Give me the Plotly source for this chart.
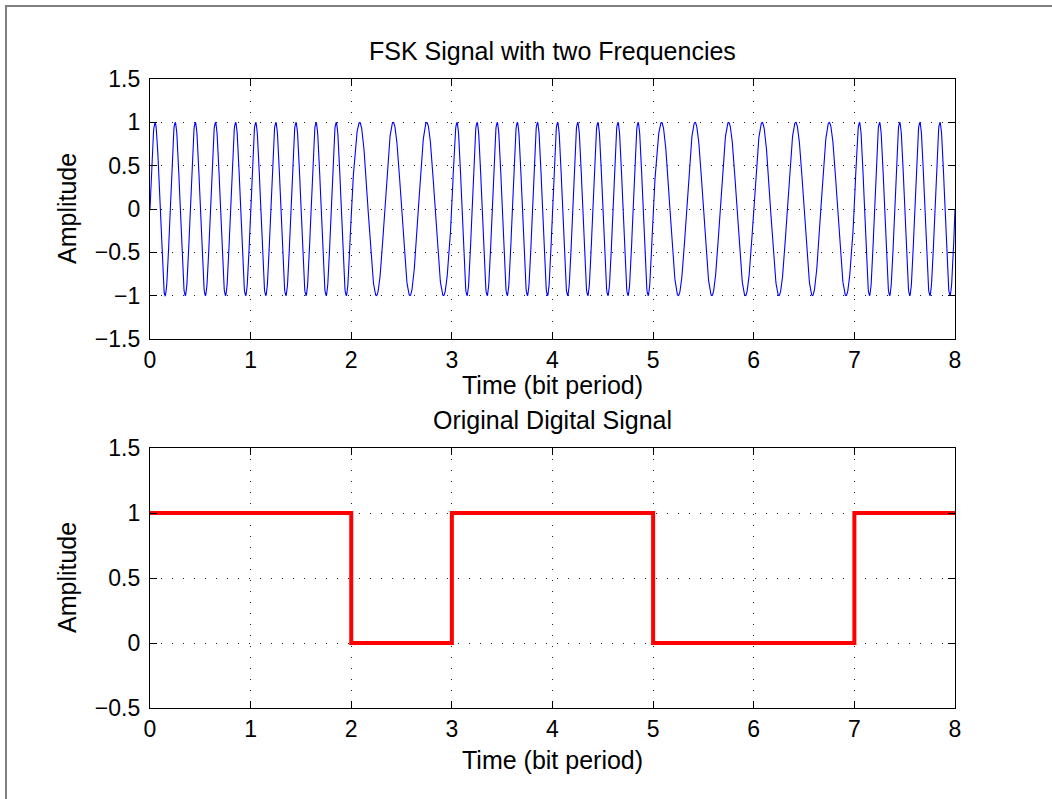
import numpy as np
import plotly.graph_objects as go

# ---- data ----
bits = [1, 1, 0, 1, 1, 0, 0, 1]          # original digital signal
freq_one = 5                              # cycles per bit period for bit 1
freq_zero = 3                             # cycles per bit period for bit 0
samples_per_bit = 400
x_ticks = [0, 1, 2, 3, 4, 5, 6, 7, 8]
y_ticks_top = [-1.5, -1, -0.5, 0, 0.5, 1, 1.5]
y_ticks_bot = [-0.5, 0, 0.5, 1, 1.5]

# FSK waveform built from the bits
t_all, s_all = [], []
for i, b in enumerate(bits):
    f = freq_one if b == 1 else freq_zero
    t = np.linspace(i, i + 1, samples_per_bit + 1)
    t_all.append(t)
    s_all.append(np.sin(2 * np.pi * f * t))
t_fsk = np.concatenate(t_all)
s_fsk = np.concatenate(s_all)

step_x = list(range(len(bits) + 1))
step_y = bits + [bits[-1]]

W, H = 1052, 799
def px(x): return x / W
def py(y): return 1 - y / H

def fmt(v):
    s = ("%g" % abs(v))
    return ("−" + s) if v < 0 else s

fig = go.Figure()
fig.add_trace(go.Scatter(x=t_fsk, y=s_fsk, mode="lines",
                         line=dict(color="#0000ff", width=1.1),
                         xaxis="x", yaxis="y", showlegend=False, hoverinfo="skip"))
fig.add_trace(go.Scatter(x=step_x, y=step_y, mode="lines", line_shape="hv",
                         line=dict(color="#ff0000", width=4),
                         xaxis="x2", yaxis="y2", showlegend=False, hoverinfo="skip"))

tick_font = dict(family="Liberation Sans, Arial, sans-serif", size=23, color="black")
font = dict(family="Liberation Sans, Arial, sans-serif", size=25, color="black")

axis_common = dict(
    showline=True, linecolor="black", linewidth=1.3, mirror="ticks",
    ticks="inside", ticklen=7, tickwidth=1, tickcolor="black",
    showgrid=True, gridcolor="#222222", gridwidth=1, griddash="1px,10px",
    zeroline=False, automargin=False, tickfont=tick_font,
)

fig.update_layout(
    width=W, height=H,
    margin=dict(l=0, r=0, t=0, b=0),
    paper_bgcolor="white", plot_bgcolor="white",
    font=font,
    xaxis=dict(domain=[px(150), px(955)], range=[0, 8], tickvals=x_ticks,
               anchor="y", ticklabelstandoff=0, **axis_common),
    yaxis=dict(domain=[py(339), py(79)], range=[-1.5, 1.5], tickvals=y_ticks_top,
               ticktext=[fmt(v) for v in y_ticks_top],
               anchor="x", ticklabelstandoff=4, **axis_common),
    xaxis2=dict(domain=[px(150), px(955)], range=[0, 8], tickvals=x_ticks,
                anchor="y2", ticklabelstandoff=0, **axis_common),
    yaxis2=dict(domain=[py(708), py(448)], range=[-0.5, 1.5], tickvals=y_ticks_bot,
                ticktext=[fmt(v) for v in y_ticks_bot],
                anchor="x2", ticklabelstandoff=4, **axis_common),
    showlegend=False,
)

annots = [
    dict(text="FSK Signal with two Frequencies", x=px(552), y=py(51)),
    dict(text="Time (bit period)", x=px(552), y=py(385)),
    dict(text="Original Digital Signal", x=px(552), y=py(420)),
    dict(text="Time (bit period)", x=px(552), y=py(760)),
    dict(text="Amplitude", x=px(67), y=py(209), textangle=-90),
    dict(text="Amplitude", x=px(67), y=py(578), textangle=-90),
]
for a in annots:
    fig.add_annotation(xref="paper", yref="paper", showarrow=False,
                       xanchor="center", yanchor="middle", font=font, **a)

# outer figure frame
fig.add_shape(type="rect", xref="paper", yref="paper",
              x0=px(6), x1=px(W + 20), y0=py(6), y1=py(H + 20),
              line=dict(color="#808080", width=2), layer="below")

fig.write_html("out.html")
